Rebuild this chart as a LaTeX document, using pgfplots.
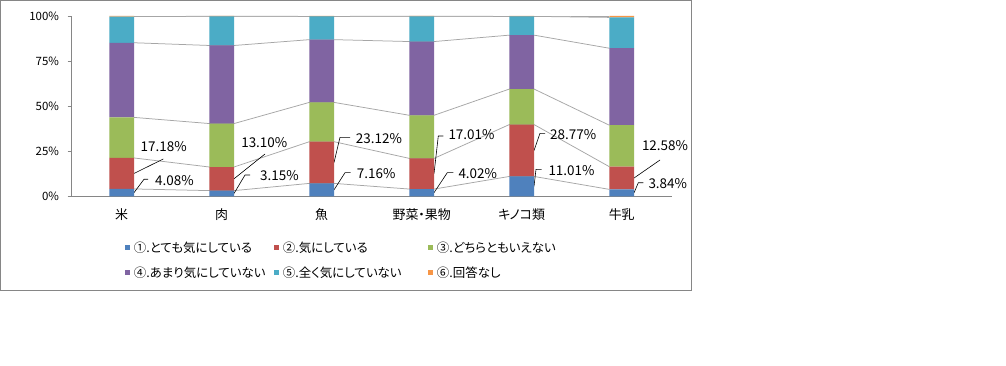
\documentclass[border=0pt]{standalone}
\usepackage{pgfplots}
\pgfplotsset{compat=1.18}
\usepackage{pgfplotstable}
\usepackage{fontspec}
\setmainfont{Noto Sans CJK JP}[RawFeature=+palt]

\definecolor{cA}{HTML}{4F81BD}
\definecolor{cB}{HTML}{C0504D}
\definecolor{cC}{HTML}{9BBB59}
\definecolor{cD}{HTML}{8064A2}
\definecolor{cE}{HTML}{4BACC6}
\definecolor{cF}{HTML}{F79646}
\definecolor{axgray}{HTML}{868686}
\definecolor{lngray}{HTML}{A6A6A6}

\pgfplotsset{sqimg/.style={legend image code/.code={\path[draw=none,fill=none] (0,0) -- (9bp,0); \fill[#1,draw=none] (0,-2.5bp) rectangle (5bp,2.5bp);}}}
\tikzset{lab/.style={inner sep=0pt, font=\fontsize{13.5}{15}\selectfont},
  leader/.style={black, line width=0.6bp}}

\pgfplotstableread{
x s1 s2 s3 s4 s5 s6
0 4.08 17.18 22.5 41.4 14.5 0.34
1 3.15 13.10 24.1 43.3 16.2 0.15
2 7.16 23.12 21.8 34.8 12.9 0.22
3 4.02 17.01 23.9 40.9 14.0 0.17
4 11.01 28.77 19.7 29.9 10.4 0.22
5 3.84 12.58 23.0 42.7 17.1 0.78
}\bardata

\pgfplotstableread{
x s1 s2 s3 s4 s5 s6
0.1235 4.08 17.18 22.5 41.4 14.5 0.34
0.8765 3.15 13.10 24.1 43.3 16.2 0.15
1.1235 3.15 13.10 24.1 43.3 16.2 0.15
1.8765 7.16 23.12 21.8 34.8 12.9 0.22
2.1235 7.16 23.12 21.8 34.8 12.9 0.22
2.8765 4.02 17.01 23.9 40.9 14.0 0.17
3.1235 4.02 17.01 23.9 40.9 14.0 0.17
3.8765 11.01 28.77 19.7 29.9 10.4 0.22
4.1235 11.01 28.77 19.7 29.9 10.4 0.22
4.8765 3.84 12.58 23.0 42.7 17.1 0.78
}\linedata

\begin{document}
\begin{tikzpicture}[x=1bp,y=1bp]
\path[use as bounding box] (0,0) rectangle (1006,365);
\fill[white] (0,0) rectangle (1006,365);
\draw[axgray, line width=1bp] (0.5,74.5) rectangle (691.7,364.5);

% series lines + second legend row
\begin{axis}[
  at={(71.7bp,168.7bp)}, anchor=south west,
  scale only axis, width=600bp, height=180.3bp,
  xmin=-0.5, xmax=5.5, ymin=0, ymax=100,
  hide axis, stack plots=y, clip=false,
  legend columns=3,
  legend cell align=left,
  legend style={at={(0.0888,-0.425)}, anchor=west, draw=none, fill=none,
    inner sep=0pt, outer sep=0pt, column sep=0pt, row sep=0pt,
    nodes={inner sep=0pt, outer sep=0pt, font=\fontsize{12.5}{14}\selectfont}},
]
\addlegendimage{sqimg=cD}\addlegendentry{\makebox[140bp][l]{④.あまり気にしていない}}
\addlegendimage{sqimg=cE}\addlegendentry{\makebox[145bp][l]{⑤.全く気にしていない}}
\addlegendimage{sqimg=cF}\addlegendentry{⑥.回答なし}
\addplot[lngray, line width=0.75bp, no markers] table[x=x,y=s1]{\linedata};
\addplot[lngray, line width=0.75bp, no markers] table[x=x,y=s2]{\linedata};
\addplot[lngray, line width=0.75bp, no markers] table[x=x,y=s3]{\linedata};
\addplot[lngray, line width=0.75bp, no markers] table[x=x,y=s4]{\linedata};
\addplot[lngray, line width=0.75bp, no markers] table[x=x,y=s5]{\linedata};
\addplot[lngray, line width=0.75bp, no markers] table[x=x,y=s6]{\linedata};
\end{axis}

% bars
\begin{axis}[
  at={(71.7bp,168.7bp)}, anchor=south west,
  scale only axis, width=600bp, height=180.3bp,
  ybar stacked, bar width=24.7bp,
  xmin=-0.5, xmax=5.5, ymin=0, ymax=100,
  clip=false,
  axis x line*=bottom, axis y line*=left,
  axis line style={draw=axgray, line width=0.75bp},
  xtick={0,1,2,3,4,5},
  xticklabels={米,肉,魚,野菜・果物,キノコ類,牛乳},
  xtick style={draw=none},
  xticklabel style={inner sep=0pt, anchor=center, yshift=-14.5bp, font=\fontsize{13}{15}\selectfont},
  ytick={0,25,50,75,100},
  yticklabels={0\%,25\%,50\%,75\%,100\%},
  ytick style={draw=axgray, line width=0.75bp},
  tick align=outside, major tick length=4bp,
  yticklabel style={inner sep=0pt, anchor=east, xshift=-8.5bp, font=\fontsize{11.5}{13}\selectfont},
  legend columns=3,
  legend cell align=left,
  legend style={at={(0.0888,-0.285)}, anchor=west, draw=none, fill=none,
    inner sep=0pt, outer sep=0pt, column sep=0pt, row sep=0pt,
    nodes={inner sep=0pt, outer sep=0pt, font=\fontsize{12.5}{14}\selectfont}},
]
\addlegendimage{sqimg=cA}\addlegendentry{\makebox[140bp][l]{①.とても気にしている}}
\addlegendimage{sqimg=cB}\addlegendentry{\makebox[145bp][l]{②.気にしている}}
\addlegendimage{sqimg=cC}\addlegendentry{③.どちらともいえない}
\addplot[fill=cA, draw=none] table[x=x,y=s1]{\bardata};
\addplot[fill=cB, draw=none] table[x=x,y=s2]{\bardata};
\addplot[fill=cC, draw=none] table[x=x,y=s3]{\bardata};
\addplot[fill=cD, draw=none] table[x=x,y=s4]{\bardata};
\addplot[fill=cE, draw=none] table[x=x,y=s5]{\bardata};
\addplot[fill=cF, draw=none] table[x=x,y=s6]{\bardata};

% data labels (series 1 and 2)
\draw[leader] (axis cs:0.123,2.04) -- (axis cs:0.223,9.43) -- (axis cs:0.263,9.43);
\node[lab, anchor=west] at (axis cs:0.333,8.87) {4.08\%};
\draw[leader] (axis cs:0.123,12.67) -- (axis cs:0.416,20.69);
\node[lab] at (axis cs:0.42,27.34) {17.18\%};

\draw[leader] (axis cs:1.123,1.575) -- (axis cs:1.233,11.8) -- (axis cs:1.283,11.8);
\node[lab, anchor=west] at (axis cs:1.383,11.26) {3.15\%};
\draw[leader] (axis cs:1.123,9.7) -- (axis cs:1.433,23.46);
\node[lab] at (axis cs:1.426,29.7) {13.10\%};

\draw[leader] (axis cs:2.123,3.58) -- (axis cs:2.233,13.09) -- (axis cs:2.29,13.09);
\node[lab, anchor=west] at (axis cs:2.35,12.37) {7.16\%};
\draw[leader] (axis cs:2.123,18.72) -- (axis cs:2.183,32.72) -- (axis cs:2.283,32.72);
\node[lab, anchor=west] at (axis cs:2.34,32.17) {23.12\%};

\draw[leader] (axis cs:3.123,2.01) -- (axis cs:3.256,13.09) -- (axis cs:3.316,13.09);
\node[lab, anchor=west] at (axis cs:3.366,12.37) {4.02\%};
\draw[leader] (axis cs:3.123,12.53) -- (axis cs:3.166,33.44) -- (axis cs:3.216,33.44);
\node[lab, anchor=west] at (axis cs:3.266,34.0) {17.01\%};

\draw[leader] (axis cs:4.123,5.5) -- (axis cs:4.143,14.97) -- (axis cs:4.2,14.97);
\node[lab, anchor=west] at (axis cs:4.266,14.2) {11.01\%};
\draw[leader] (axis cs:4.123,25.4) -- (axis cs:4.183,34.94) -- (axis cs:4.233,34.94);
\node[lab, anchor=west] at (axis cs:4.283,34.0) {28.77\%};

\draw[leader] (axis cs:5.123,1.92) -- (axis cs:5.166,7.54) -- (axis cs:5.216,7.54);
\node[lab, anchor=west] at (axis cs:5.266,7.21) {3.84\%};
\draw[leader] (axis cs:5.123,10.13) -- (axis cs:5.383,20.13);
\node[lab] at (axis cs:5.433,28.06) {12.58\%};
\end{axis}
\end{tikzpicture}
\end{document}
